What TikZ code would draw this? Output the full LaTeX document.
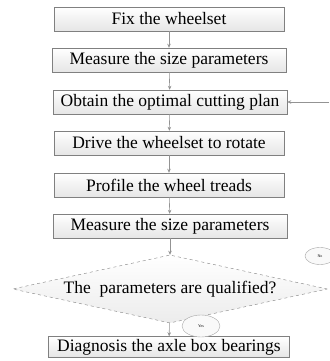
\documentclass[tikz,border=0pt]{standalone}
\usepackage{fontspec}
\setmainfont{Liberation Serif}
\usetikzlibrary{shapes.geometric,arrows.meta}
\begin{document}
\begin{tikzpicture}[x=1pt,y=1pt,>={Stealth[length=4pt,width=3.5pt]},
    stepbox/.style={draw=gray, top color=white, bottom color=gray!20, minimum height=24pt, inner sep=0pt, font=\fontsize{17.5}{19}\selectfont},
    link/.style={->, gray!85, semithick},
    answer/.style={draw=gray!70, ellipse, fill=gray!5, inner sep=0pt, font=\fontsize{4}{5}\selectfont}]
    \useasboundingbox (0,0) rectangle (329,361);
    % Blocchi del processo
    \node[stepbox, minimum width=230pt] (fix) at (169,342) {Fix the wheelset};
    \node[stepbox, minimum width=234pt] (measure1) at (169,301) {Measure the size parameters};
    \node[stepbox, minimum width=234pt] (plan) at (170,259) {Obtain the optimal cutting plan};
    \node[stepbox, minimum width=230pt] (drive) at (169,218) {Drive the wheelset to rotate};
    \node[stepbox, minimum width=230pt] (profile) at (169,176) {Profile the wheel treads};
    \node[stepbox, minimum width=234pt] (measure2) at (170,135) {Measure the size parameters};
    % Decisione
    \node[draw=gray, dashed, diamond, aspect=4.6, inner sep=0pt, minimum width=315pt, minimum height=68pt,
        top color=white, bottom color=gray!15, font=\fontsize{17.5}{19}\selectfont] (check) at (170,72) {The\ \ parameters are qualified?};
    \node[stepbox, minimum width=241pt, minimum height=21pt] (diag) at (169,14) {Diagnosis the axle box bearings};
    % Etichette delle risposte
    \node[answer, minimum width=38pt, minimum height=22pt] (yes) at (201,35) {Yes};
    \node[answer, minimum width=30pt, minimum height=17pt] (no) at (320,105) {No};
    % Frecce
    \draw[link] (fix) -- (measure1);
    \draw[link] (measure1) -- (plan);
    \draw[link] (plan) -- (drive);
    \draw[link] (drive) -- (profile);
    \draw[link] (profile) -- (measure2);
    \draw[link] (measure2) -- (check);
    \draw[link] (check) -- (diag);
    % Ritorno dal ramo No
    \coordinate (back) at (329,259);
    \draw[link] (back) -- (plan.east);
\end{tikzpicture}
\end{document}
